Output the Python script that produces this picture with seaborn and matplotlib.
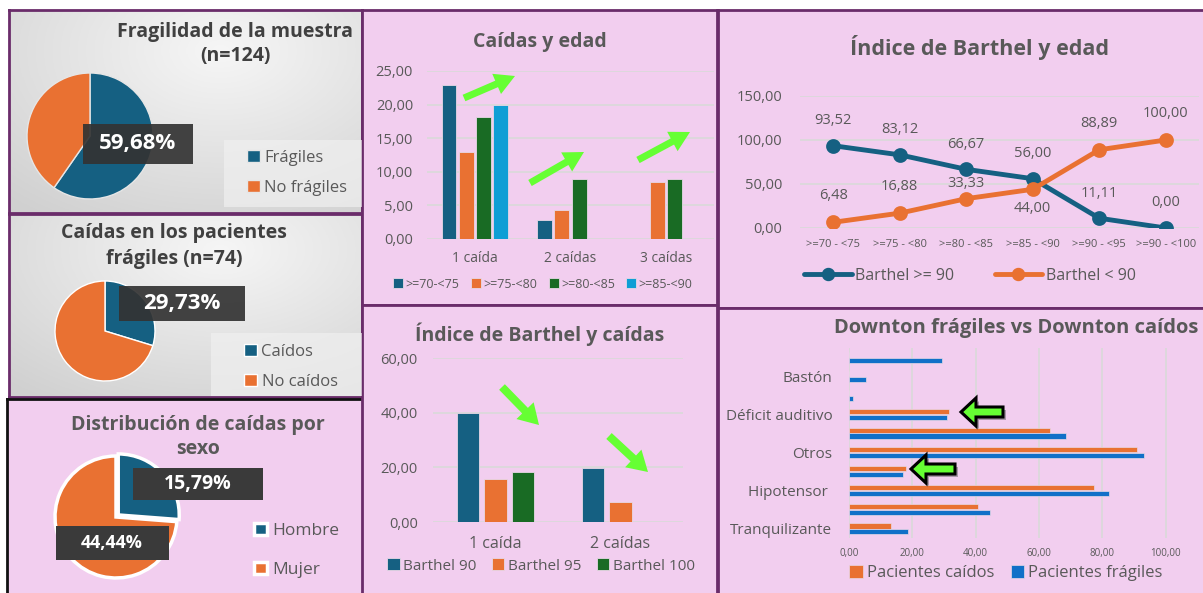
import numpy as np
import pandas as pd
import matplotlib
matplotlib.use("Agg")
import matplotlib.pyplot as plt
from matplotlib.patches import Rectangle, FancyArrow
from matplotlib.colors import LinearSegmentedColormap
from matplotlib.ticker import FuncFormatter
from matplotlib.transforms import IdentityTransform
import seaborn as sns

W, H = 1203, 593

# --- data ---
frag_labels = ["Frágiles", "No frágiles"]
frag_values = [59.68, 40.32]

caidos_labels = ["Caídos", "No caídos"]
caidos_values = [29.73, 70.27]

sexo_labels = ["Hombre", "Mujer"]
sexo_values = [15.79, 44.44]

edad_cats = ["1 caída", "2 caídas", "3 caídas"]
edad_groups = [">=70-<75", ">=75-<80", ">=80-<85", ">=85-<90"]
edad_70_75 = [22.9, 2.8, np.nan]
edad_75_80 = [13.0, 4.3, 8.5]
edad_80_85 = [18.2, 9.0, 9.0]
edad_85_90 = [19.9, np.nan, np.nan]

barthel_cats = ["1 caída", "2 caídas"]
barthel_groups = ["Barthel 90", "Barthel 95", "Barthel 100"]
barthel_90 = [40.0, 19.8]
barthel_95 = [15.9, 7.5]
barthel_100 = [18.2, np.nan]

edad_rangos = [">=70 - <75", ">=75 - <80", ">=80 - <85", ">=85 - <90", ">=90 - <95", ">=90 - <100"]
barthel_alto = [93.52, 83.12, 66.67, 56.00, 11.11, 0.00]
barthel_bajo = [6.48, 16.88, 33.33, 44.00, 88.89, 100.00]

# top to bottom; only every other name is shown on the axis
downton_items = ["Andador", "Bastón", "Extremidades", "Déficit auditivo", "Déficit visual",
                 "Otros", "Antidepresivo", "Hipotensor ", "Diurético", "Tranquilizante"]
downton_caidos = [0, 0, 0, 31.7, 63.6, 90.9, 18.1, 77.2, 40.8, 13.4]
downton_fragiles = [29.4, 5.3, 1.2, 30.8, 68.6, 93.2, 17.1, 82.2, 44.4, 18.5]

# --- style ---
sns.set_theme(style="white")
plt.rcParams['font.family'] = ['Open Sans', 'DejaVu Sans']

PINK = "#F2CEEF"
BORDER = "#6A2C6A"
GRAY_TXT = "#595959"
DARK_TXT = "#404040"
C_BLUE = "#156082"
C_ORANGE = "#E97132"
C_GREEN = "#196B24"
C_LIGHT = "#0F9ED5"
C_BLUE2 = "#1170C8"
LIME = "#66FF33"
GRID = "#D9D9D9"

fig = plt.figure(figsize=(W / 100, H / 100), dpi=100)
fig.patch.set_facecolor("white")


def px_axes(x0, y0, x1, y1):
    return fig.add_axes([x0 / W, 1 - y1 / H, (x1 - x0) / W, (y1 - y0) / H])


def fx(x):
    return x / W


def fy(y):
    return 1 - y / H


def panel(x0, y0, x1, y1, edge=BORDER, gradient=False):
    ax = px_axes(x0, y0, x1, y1)
    ax.set_xlim(0, 1)
    ax.set_ylim(0, 1)
    if gradient:
        yy, xx = np.mgrid[0:1:200j, 0:1:300j]
        r = np.sqrt(((xx - 0.6) * 1.1) ** 2 + (yy - 0.8) ** 2)
        cmap = LinearSegmentedColormap.from_list("g", ["#F6F6F6", "#D0D0D0"])
        ax.imshow(r, cmap=cmap, extent=(0, 1, 0, 1), aspect="auto", origin="lower", vmin=0, vmax=1.0)
    else:
        ax.set_facecolor(PINK)
    ax.set_xticks([])
    ax.set_yticks([])
    for s in ax.spines.values():
        s.set_edgecolor(edge)
        s.set_linewidth(2)
    return ax


def px_box(x0, y0, x1, y1, color, alpha=1.0):
    fig.add_artist(Rectangle((fx(x0), fy(y1)), (x1 - x0) / W, (y1 - y0) / H,
                             transform=fig.transFigure, facecolor=color, edgecolor="none",
                             alpha=alpha, zorder=5))


def title(x, y, s, size, color=GRAY_TXT, ls=1.2):
    fig.text(fx(x), fy(y), s, ha="center", va="center", fontsize=size, fontweight="bold",
             color=color, linespacing=ls, zorder=6)


def pct(v):
    return f"{v:.2f}%".replace(".", ",")


def comma(v, _=None):
    return f"{v:.2f}".replace(".", ",")


def arrow(x0, y0, x1, y1, width, head_w, head_l, outline=False):
    if outline:
        sh = FancyArrow(x0 + 3, H - y0 - 3, x1 - x0, -(y1 - y0), width=width, head_width=head_w,
                        head_length=head_l, length_includes_head=True, transform=IdentityTransform(),
                        facecolor="#555555", edgecolor="none", alpha=0.45, zorder=7)
        fig.add_artist(sh)
    a = FancyArrow(x0, H - y0, x1 - x0, -(y1 - y0), width=width, head_width=head_w,
                   head_length=head_l, length_includes_head=True, transform=IdentityTransform(),
                   facecolor=LIME, edgecolor="black" if outline else "none",
                   linewidth=2.2 if outline else 0, zorder=8)
    fig.add_artist(a)


# --- panel backgrounds ---
panel(9, 10, 362, 213, gradient=True)
panel(9, 214, 362, 397, gradient=True)
panel(7, 399, 363, 596, edge="#111111")
panel(362, 10, 717, 305)
panel(362, 305, 717, 596)
panel(718, 10, 1206, 308)
panel(718, 308, 1206, 596)

# --- pie A: fragilidad ---
ax = px_axes(90 - 63, 136 - 63, 90 + 63, 136 + 63)
wedges, _ = ax.pie(frag_values, colors=[C_BLUE, C_ORANGE], startangle=90, counterclock=False,
                   wedgeprops=dict(edgecolor="#E6E6E6", linewidth=1))
ax.set_xlim(-1, 1)
ax.set_ylim(-1, 1)
title(235, 44, "Fragilidad de la muestra\n(n=124)", 14, DARK_TXT, 1.3)
px_box(83, 124, 193, 164, "#333333", 0.92)
fig.text(fx(138), fy(144), pct(frag_values[0]), ha="center", va="center", fontsize=16,
         fontweight="bold", color="white", zorder=6)
px_box(224, 140, 362, 207, "#F0F0F0", 0.7)
fig.legend(wedges, frag_labels, loc="upper left", bbox_to_anchor=(fx(232), fy(135)), frameon=False,
           fontsize=12, handlelength=0.75, handleheight=0.75, handletextpad=0.3, labelspacing=0.85,
           labelcolor=GRAY_TXT)

# --- pie B: caidas en frágiles ---
ax = px_axes(105 - 50, 331 - 50, 105 + 50, 331 + 50)
wedges, _ = ax.pie(caidos_values, colors=[C_BLUE, C_ORANGE], startangle=90, counterclock=False)
ax.set_xlim(-1, 1)
ax.set_ylim(-1, 1)
title(174, 246, "Caídas en los pacientes\nfrágiles (n=74)", 14, DARK_TXT, 1.35)
px_box(119, 286, 245, 321, "#333333", 0.92)
fig.text(fx(182), fy(303), pct(caidos_values[0]), ha="center", va="center", fontsize=16,
         fontweight="bold", color="white", zorder=6)
px_box(211, 333, 362, 396, "#F0F0F0", 0.7)
fig.legend(wedges, caidos_labels, loc="upper left", bbox_to_anchor=(fx(229), fy(329)), frameon=False,
           fontsize=12, handlelength=0.75, handleheight=0.75, handletextpad=0.3, labelspacing=0.85,
           labelcolor=GRAY_TXT)

# --- pie C: sexo ---
ax = px_axes(116 - 61, 517 - 61, 116 + 61, 517 + 61)
wedges, _ = ax.pie(sexo_values, colors=[C_BLUE, C_ORANGE], startangle=90, counterclock=False,
                   explode=[0.05, 0], wedgeprops=dict(edgecolor="white", linewidth=2.5))
for w in wedges:
    w.set_clip_on(False)
ax.set_xlim(-1, 1)
ax.set_ylim(-1, 1)
title(198, 437, "Distribución de caídas por\nsexo", 14, GRAY_TXT, 1.3)
px_box(133, 468, 263, 500, "#3A3A3A")
fig.text(fx(198), fy(484), pct(sexo_values[0]), ha="center", va="center", fontsize=14,
         fontweight="bold", color="white", zorder=6)
px_box(56, 526, 169, 560, "#3A3A3A")
fig.text(fx(112), fy(543), pct(sexo_values[1]), ha="center", va="center", fontsize=13,
         fontweight="bold", color="white", zorder=6)
fig.legend(wedges, sexo_labels, loc="upper left", bbox_to_anchor=(fx(238), fy(507)), frameon=False,
           fontsize=12.5, handlelength=0.75, handleheight=0.75, handletextpad=0.3, labelspacing=1.3,
           labelcolor=GRAY_TXT)

# --- bar D: caidas y edad ---
df_edad = pd.DataFrame({
    "caidas": edad_cats * 4,
    "grupo": np.repeat(edad_groups, 3),
    "valor": edad_70_75 + edad_75_80 + edad_80_85 + edad_85_90,
}).dropna()
ax = px_axes(427, 71, 714, 239)
ax.set_facecolor("none")
sns.barplot(data=df_edad, x="caidas", y="valor", hue="grupo", order=edad_cats, hue_order=edad_groups,
            palette=[C_BLUE, C_ORANGE, C_GREEN, C_LIGHT], saturation=1, width=0.72, gap=0.13,
            errorbar=None, edgecolor="#E8D8E6", linewidth=0.6, ax=ax)
handles, labels = ax.get_legend_handles_labels()
ax.get_legend().remove()
ax.set_ylim(0, 25)
ax.set_yticks(np.arange(0, 26, 5))
ax.yaxis.set_major_formatter(FuncFormatter(comma))
ax.grid(axis="y", color=GRID, linewidth=1.2)
ax.set_axisbelow(True)
sns.despine(ax=ax, left=True, bottom=True)
ax.set_xlabel("")
ax.set_ylabel("")
ax.tick_params(axis="y", labelsize=10.5, labelcolor=GRAY_TXT, pad=10, length=0)
ax.tick_params(axis="x", labelsize=10, labelcolor=GRAY_TXT, pad=9, length=0)
title(540, 42, "Caídas y edad", 14)
fig.legend(handles, labels, loc="center", bbox_to_anchor=(fx(543), fy(284)), ncol=4, frameon=False,
           fontsize=9, handlelength=0.8, handleheight=0.8, handletextpad=0.2, columnspacing=0.9,
           labelcolor=GRAY_TXT)
arrow(464, 98, 515, 76, 7, 22, 20)
arrow(530, 183, 584, 152, 7, 22, 20)
arrow(638, 160, 690, 132, 7, 22, 20)

# --- bar E: Barthel y caidas ---
df_bc = pd.DataFrame({
    "caidas": barthel_cats * 3,
    "grupo": np.repeat(barthel_groups, 2),
    "valor": barthel_90 + barthel_95 + barthel_100,
}).dropna()
ax = px_axes(433, 358, 683, 522)
ax.set_facecolor("none")
sns.barplot(data=df_bc, x="caidas", y="valor", hue="grupo", order=barthel_cats, hue_order=barthel_groups,
            palette=[C_BLUE, C_ORANGE, C_GREEN], saturation=1, width=0.67, gap=0.21, errorbar=None,
            edgecolor="#E8D8E6", linewidth=0.6, ax=ax)
handles, labels = ax.get_legend_handles_labels()
ax.get_legend().remove()
ax.set_ylim(0, 60)
ax.set_yticks(np.arange(0, 61, 20))
ax.yaxis.set_major_formatter(FuncFormatter(comma))
ax.grid(axis="y", color=GRID, linewidth=1.2)
ax.set_axisbelow(True)
sns.despine(ax=ax, left=True, bottom=True)
ax.set_xlabel("")
ax.set_ylabel("")
ax.tick_params(axis="y", labelsize=10.5, labelcolor=GRAY_TXT, pad=11, length=0)
ax.tick_params(axis="x", labelsize=11.5, labelcolor=GRAY_TXT, pad=10, length=0)
title(540, 334, "Índice de Barthel y caídas", 14)
fig.legend(handles, labels, loc="center", bbox_to_anchor=(fx(541), fy(566)), ncol=3, frameon=False,
           fontsize=11, handlelength=0.8, handleheight=0.8, handletextpad=0.25, columnspacing=1.0,
           labelcolor=GRAY_TXT)
arrow(502, 387, 539, 425, 8, 24, 20)
arrow(609, 436, 648, 472, 8, 24, 20)

# --- line F: Barthel y edad ---
df_line = pd.DataFrame({
    "rango": edad_rangos * 2,
    "serie": ["Barthel >= 90"] * len(edad_rangos) + ["Barthel < 90"] * len(edad_rangos),
    "valor": barthel_alto + barthel_bajo,
})
ax = px_axes(800, 96, 1199, 228)
ax.set_facecolor("none")
sns.pointplot(data=df_line, x="rango", y="valor", hue="serie", order=edad_rangos,
              palette=[C_BLUE, C_ORANGE], markers="o", errorbar=None, markersize=8, linewidth=3.5, ax=ax)
handles, labels = ax.get_legend_handles_labels()
ax.get_legend().remove()
ax.set_xlim(-0.5, len(edad_rangos) - 0.5)
ax.set_ylim(0, 150)
ax.set_yticks(np.arange(0, 151, 50))
ax.yaxis.set_major_formatter(FuncFormatter(comma))
ax.grid(axis="y", color=GRID, linewidth=1.2)
ax.set_axisbelow(True)
sns.despine(ax=ax, left=True, bottom=True)
ax.set_xlabel("")
ax.set_ylabel("")
ax.tick_params(axis="y", labelsize=10.5, labelcolor=GRAY_TXT, pad=13, length=0)
ax.tick_params(axis="x", labelsize=8, labelcolor=GRAY_TXT, pad=8, length=0)
for i, v in enumerate(barthel_alto):
    ax.annotate(comma(v), (i, v), xytext=(0, 18), textcoords="offset points", ha="center", va="center",
                fontsize=10.5, color=GRAY_TXT)
bajo_offsets = [19, 19, 11, -14, 19, 19]
for i, v in enumerate(barthel_bajo):
    ax.annotate(comma(v), (i, v), xytext=(0, bajo_offsets[i]), textcoords="offset points", ha="center",
                va="center", fontsize=10.5, color=GRAY_TXT)
title(980, 47, "Índice de Barthel y edad", 15.5)
for h in handles:
    h.set_markersize(7)
fig.legend(handles, labels, loc="center", bbox_to_anchor=(fx(970), fy(276)), ncol=2, frameon=False,
           fontsize=11.5, handlelength=3.0, handletextpad=0.2, columnspacing=2.5, labelcolor=GRAY_TXT)

# --- bar G: Downton ---
df_down = pd.DataFrame({
    "item": downton_items * 2,
    "grupo": ["Pacientes caídos"] * len(downton_items) + ["Pacientes frágiles"] * len(downton_items),
    "valor": downton_caidos + downton_fragiles,
})
ax = px_axes(849, 348, 1188, 538)
ax.set_facecolor("none")
sns.barplot(data=df_down, y="item", x="valor", hue="grupo", order=downton_items,
            hue_order=["Pacientes caídos", "Pacientes frágiles"], palette=[C_ORANGE, C_BLUE2],
            saturation=1, width=0.56, errorbar=None, orient="h", edgecolor="#E8D8E6", linewidth=0.5, ax=ax)
handles, labels = ax.get_legend_handles_labels()
ax.get_legend().remove()
ax.set_xlim(0, 107)
ax.set_xticks(np.arange(0, 101, 20))
ax.xaxis.set_major_formatter(FuncFormatter(comma))
ax.set_yticks(range(len(downton_items)))
ax.set_yticklabels([lab if i % 2 == 1 else "" for i, lab in enumerate(downton_items)])
ax.grid(axis="x", color=GRID, linewidth=1.2)
ax.set_axisbelow(True)
sns.despine(ax=ax, left=True, bottom=True)
ax.set_xlabel("")
ax.set_ylabel("")
ax.tick_params(axis="y", labelsize=11, labelcolor=GRAY_TXT, pad=12, length=0)
ax.tick_params(axis="x", labelsize=7, labelcolor=GRAY_TXT, pad=7, length=0)
title(1016, 328, "Downton frágiles vs Downton caídos", 14.5)
fig.legend(handles, labels, loc="center", bbox_to_anchor=(fx(1006), fy(573)), ncol=2, frameon=False,
           fontsize=12, handlelength=0.8, handleheight=0.8, handletextpad=0.25, columnspacing=1.0,
           labelcolor=GRAY_TXT)
arrow(1003, 412, 961, 412, 10, 28, 15, outline=True)
arrow(955, 469, 911, 469, 10, 28, 15, outline=True)

fig.savefig("out.png", dpi=100, facecolor="white")
